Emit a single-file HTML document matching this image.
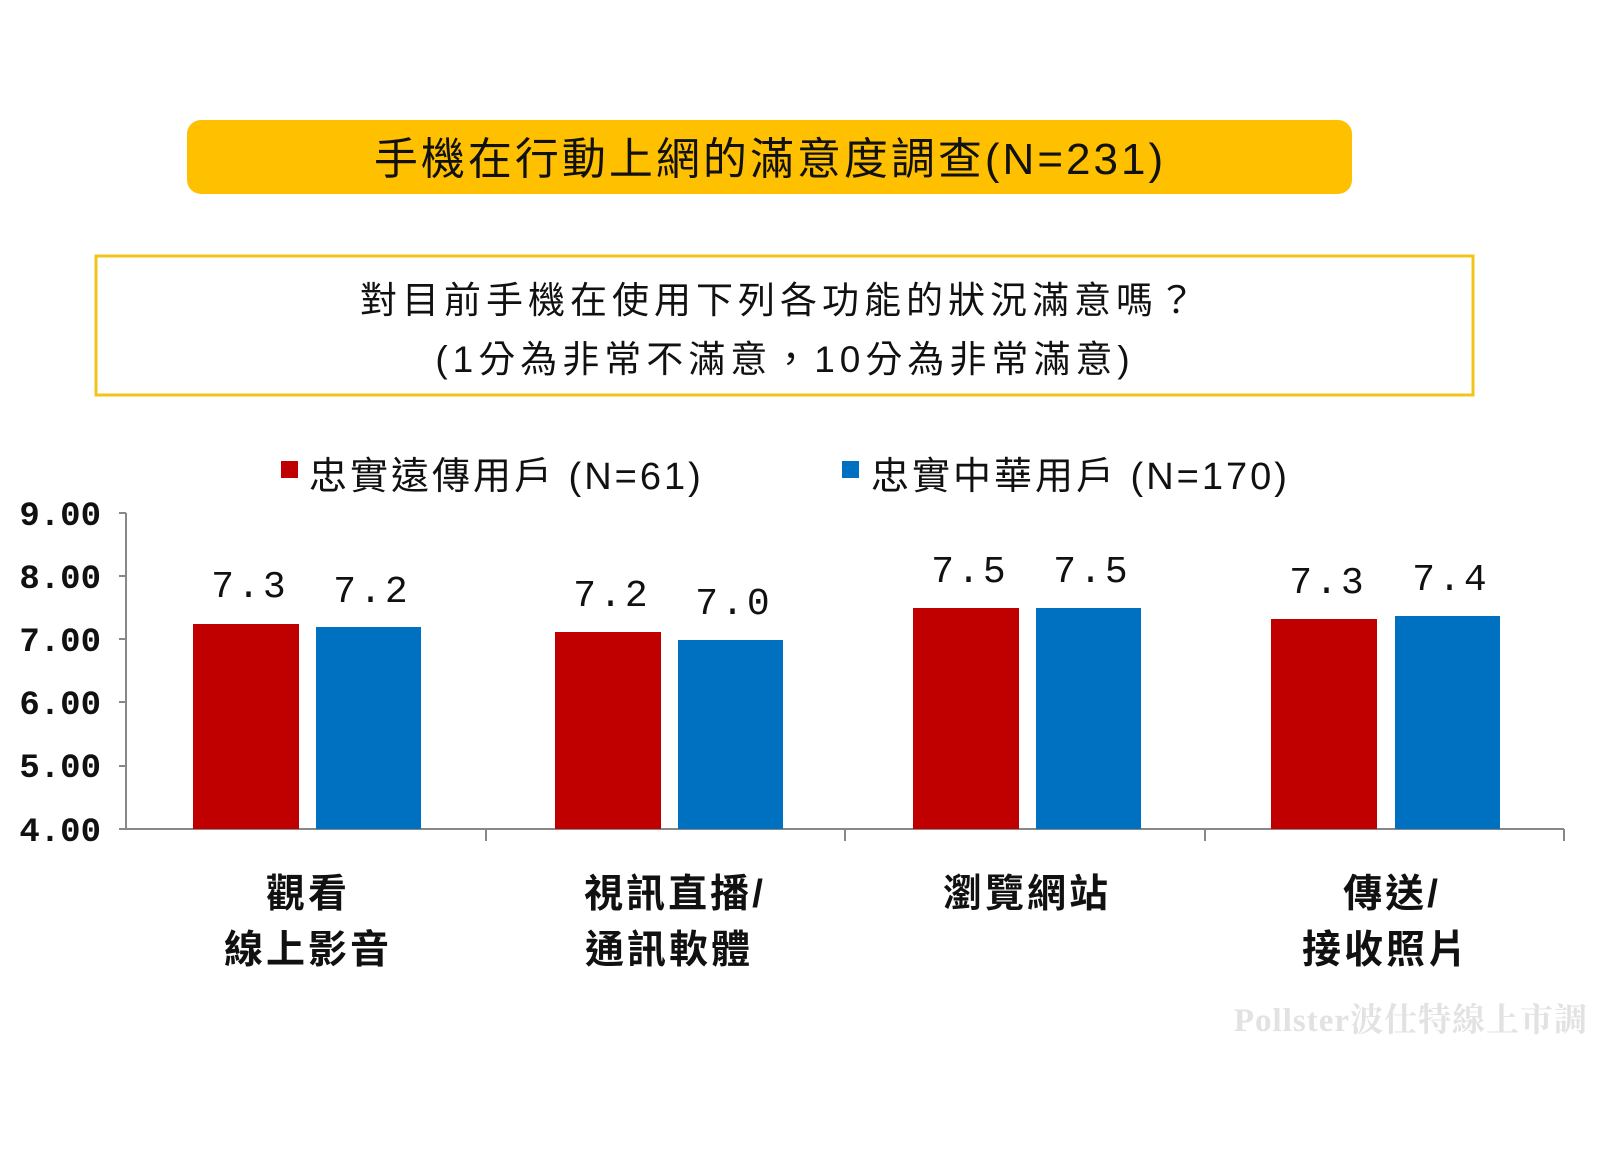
<!DOCTYPE html>
<html><head><meta charset="utf-8"><style>
html,body{margin:0;padding:0;background:#fff;}
svg{display:block;}
.cjk{font-family:"Liberation Sans","Noto Sans CJK TC",sans-serif;}
.mono{font-family:"Liberation Mono","DejaVu Sans Mono",monospace;}
</style></head><body>
<svg width="1600" height="1173" viewBox="0 0 1600 1173" xmlns="http://www.w3.org/2000/svg">
<rect x="187" y="120" width="1165" height="74" rx="14" fill="#FFC000"/>
<text x="770" y="174" text-anchor="middle" class="cjk" font-size="44" letter-spacing="3" fill="#111">手機在行動上網的滿意度調查(N=231)</text>
<rect x="96" y="256" width="1377" height="139" fill="#fff" stroke="#F0C419" stroke-width="3"/>
<text x="780" y="313" text-anchor="middle" class="cjk" font-size="37" letter-spacing="5" fill="#111">對目前手機在使用下列各功能的狀況滿意嗎？</text>
<text x="785" y="372" text-anchor="middle" class="cjk" font-size="37" letter-spacing="5" fill="#111">(1分為非常不滿意，10分為非常滿意)</text>
<rect x="281" y="461" width="17" height="17" fill="#C00000"/>
<text x="309" y="489" class="cjk" font-size="38" letter-spacing="3" fill="#111">忠實遠傳用戶 (N=61)</text>
<rect x="842" y="461" width="17" height="17" fill="#0070C0"/>
<text x="871" y="489" class="cjk" font-size="38" letter-spacing="3" fill="#111">忠實中華用戶 (N=170)</text>
<g class="mono" font-size="34" fill="#111" text-anchor="end" font-weight="bold">
<text x="101" y="525">9.00</text><text x="101" y="588">8.00</text><text x="101" y="651">7.00</text>
<text x="101" y="714">6.00</text><text x="101" y="777">5.00</text><text x="101" y="841">4.00</text>
</g>
<g stroke="#888" stroke-width="2">
<line x1="126" y1="513" x2="126" y2="830"/>
<line x1="119" y1="513" x2="126" y2="513"/><line x1="119" y1="576" x2="126" y2="576"/>
<line x1="119" y1="639" x2="126" y2="639"/><line x1="119" y1="702" x2="126" y2="702"/>
<line x1="119" y1="766" x2="126" y2="766"/><line x1="119" y1="829" x2="126" y2="829"/>
<line x1="126" y1="829" x2="1564" y2="829"/>
<line x1="486" y1="829" x2="486" y2="841"/><line x1="845" y1="829" x2="845" y2="841"/>
<line x1="1205" y1="829" x2="1205" y2="841"/><line x1="1564" y1="829" x2="1564" y2="841"/>
</g>
<g>
<rect x="193" y="624" width="106" height="205" fill="#C00000"/>
<rect x="316" y="627" width="105" height="202" fill="#0070C0"/>
<rect x="555" y="632" width="106" height="197" fill="#C00000"/>
<rect x="678" y="640" width="105" height="189" fill="#0070C0"/>
<rect x="913" y="608" width="106" height="221" fill="#C00000"/>
<rect x="1036" y="608" width="105" height="221" fill="#0070C0"/>
<rect x="1271" y="619" width="106" height="210" fill="#C00000"/>
<rect x="1395" y="616" width="105" height="213" fill="#0070C0"/>
</g>
<g class="mono" font-size="38" fill="#111" text-anchor="middle" letter-spacing="3">
<text x="250" y="597">7.3</text><text x="372" y="602">7.2</text>
<text x="612" y="606">7.2</text><text x="734" y="614">7.0</text>
<text x="970" y="582">7.5</text><text x="1092" y="582">7.5</text>
<text x="1328" y="593">7.3</text><text x="1451" y="590">7.4</text>
</g>
<g class="cjk" font-size="39" font-weight="bold" fill="#111" text-anchor="middle" letter-spacing="3">
<text x="308" y="907">觀看</text><text x="308" y="963">線上影音</text>
<text x="675" y="907">視訊直播/</text><text x="669" y="963">通訊軟體</text>
<text x="1027" y="907">瀏覽網站</text>
<text x="1392" y="907">傳送/</text><text x="1386" y="963">接收照片</text>
</g>
<text x="1588" y="1031" text-anchor="end" font-family="'Liberation Serif','Noto Serif CJK SC',serif" font-size="33" font-weight="bold" letter-spacing="1" fill="#e2e2e2">Pollster波仕特線上市調</text>
</svg>
</body></html>
